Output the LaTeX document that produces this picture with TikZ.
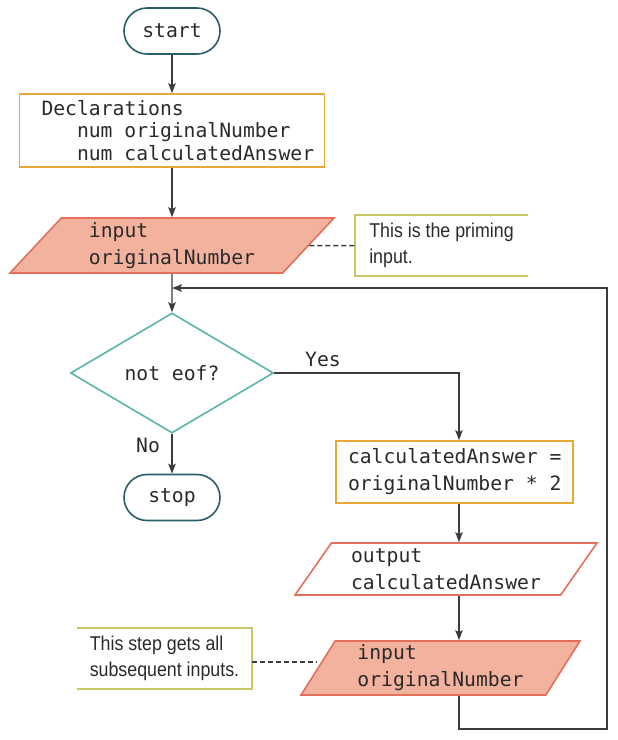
\documentclass[tikz,border=0pt]{standalone}
\usepackage{fontspec}
\usetikzlibrary{shapes.geometric,arrows.meta,calc}
\newfontfamily\codefont[HyphenChar=None]{DejaVu Sans Mono}
\newfontfamily\notefont[FakeStretch=0.89,HyphenChar=None]{Liberation Sans}
\newcommand\codesize[1]{\codefont\fontsize{19.7}{#1}\selectfont}
\newcommand\ms{\hspace*{11.86pt}}
\definecolor{termc}{HTML}{2C5D6C}
\definecolor{diac}{HTML}{5AB4AC}
\definecolor{procc}{HTML}{E8A838}
\definecolor{parac}{HTML}{E2705C}
\definecolor{parafill}{HTML}{F3B29E}
\definecolor{notec}{HTML}{C8C864}
\definecolor{linec}{HTML}{3C3C3C}
\definecolor{txtc}{HTML}{2A2A2A}
\tikzset{
  code/.style={font=\codesize{27}, text=txtc},
  terminal/.style={code, draw=termc, line width=1.6pt, fill=white, rectangle,
    rounded corners=23pt, minimum width=96pt, minimum height=46pt, inner sep=0pt},
  procbox/.style={code, draw=procc, line width=1.6pt, fill=white, rectangle, align=left},
  decision/.style={code, draw=diac, line width=1.6pt, fill=white, diamond,
    minimum width=203pt, minimum height=120pt, inner sep=0pt},
  iobox/.style={code, draw=parac, line width=1.6pt, trapezium, trapezium stretches body,
    align=left, inner sep=0pt},
  notebox/.style={font=\notefont\fontsize{20}{26.5}\selectfont, text=txtc, rectangle,
    align=left, minimum height=61pt, inner sep=0pt},
  notebrd/.style={draw=notec, line width=1.5pt},
  flow/.style={draw=linec, line width=1.4pt, -{Stealth[length=10pt,width=7.5pt,inset=2pt]}},
  dashline/.style={draw=linec, line width=1.5pt, dash pattern=on 5pt off 3pt},
  lbl/.style={code, inner sep=0pt}
}
\begin{document}
\begin{tikzpicture}[x=1pt,y=-1pt]
\useasboundingbox (0,0) rectangle (618,740);
% nodes
\node[terminal] (start) at (172,31) {start};
\node[procbox, minimum width=305pt, minimum height=73pt, text width=289pt,
  inner xsep=8pt, inner ysep=0pt, font=\codesize{22.5}]
  (decl) at (172,130.5) {\hspace*{14pt}Declarations\\\hspace*{49.5pt}num\ms originalNumber\\\hspace*{49.5pt}num\ms calculatedAnswer};
\node[iobox, fill=parafill, trapezium left angle=42, trapezium right angle=138,
  minimum width=324pt, minimum height=55pt] (in1) at (172,245.5) {input\\originalNumber};
\node[notebox, minimum width=173pt] (note1) at (441.5,245.5) {This is the priming\\input.};
\node[decision] (dia) at (172,373) {not\ms eof?};
\node[terminal] (stop) at (172,497.5) {stop};
\node[procbox, minimum width=237pt, minimum height=62pt, text width=225pt,
  inner xsep=6pt, inner ysep=0pt] (calc) at (454.5,472) {\hspace*{6pt}calculatedAnswer\ms=\\\hspace*{6pt}originalNumber\ms*\ms2};
\node[iobox, fill=white, trapezium left angle=48.5, trapezium right angle=131.5,
  minimum width=302pt, minimum height=52pt] (out) at (446,569) {output\\calculatedAnswer};
\node[iobox, fill=parafill, trapezium left angle=53.5, trapezium right angle=126.5,
  minimum width=279pt, minimum height=54pt] (in2) at (440.5,668) {input\\originalNumber};
\node[notebox, minimum width=175pt] (note2) at (164.5,658.5) {This step gets all\\subsequent inputs.};
\node[lbl] (yes) at (323,359) {Yes};
\node[lbl] (no) at (148,445) {No};
% coordinates
\coordinate (fx) at (459,0);
\coordinate (lb) at (459,729);
\coordinate (lr) at (607,729);
\coordinate (lt) at (607,288);
\coordinate (lj) at (172,288);
% note borders
\draw[notebrd] (note1.north east) -- (note1.north west) -- (note1.south west) -- (note1.south east);
\draw[notebrd] (note2.north west) -- (note2.north east) -- (note2.south east) -- (note2.south west);
% connectors
\draw[flow] (start) -- (decl);
\draw[flow] (decl) -- (in1);
\draw[flow] (in1.south) -- (dia.north);
\draw[flow] (dia.east) -| (calc.north -| fx);
\draw[flow] (dia.south) -- (stop.north);
\draw[flow] (calc.south -| fx) -- (out.north -| fx);
\draw[flow] (out.south -| fx) -- (in2.north -| fx);
\draw[flow] (in2.south -| fx) -- (lb) -- (lr) -- (lt) -- (lj);
\draw[dashline] (in1) -- (note1);
\draw[dashline] (note2.east |- 0,662) -- (in2.west |- 0,662);
\end{tikzpicture}
\end{document}
